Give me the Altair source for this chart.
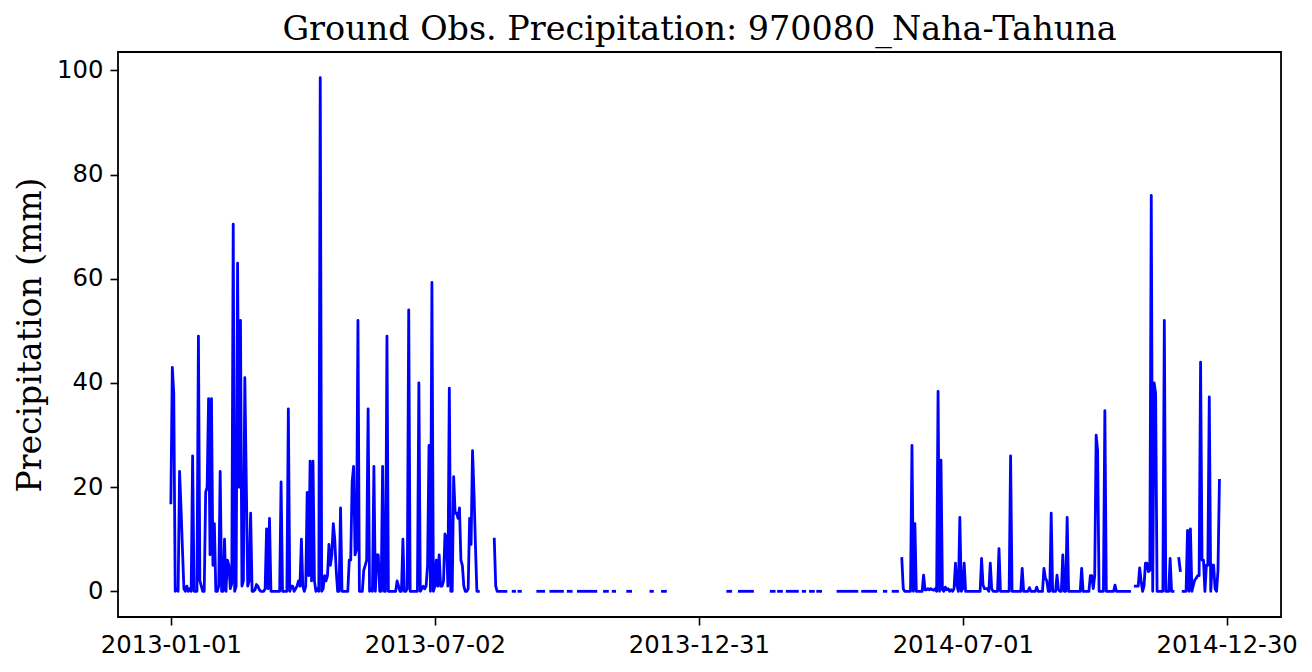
import altair as alt
import pandas as pd

# Daily precipitation (mm); one list per unbroken run
# of observations (the gaps are days with no data).
run_2013_wet_start = "2013-01-01"
run_2013_wet = [
    17, 43, 38, 0, 0.5, 0, 23, 16, 8, 0.5,
    0, 1, 0, 0.5, 0, 26, 0, 0, 0, 49,
    2, 1, 0, 0, 19, 20, 37, 7, 37, 5,
    13, 0, 0, 1, 23, 0, 0, 10, 0, 6,
    5, 0.5, 1.5, 70.5, 0, 1, 63, 20, 52, 1,
    2, 41, 21, 1, 2, 15, 0, 0, 0.3, 1.3,
    1, 0.3, 0, 0, 0, 0.5, 12, 0.5, 14, 0,
    0, 0, 0, 0, 0, 0, 21, 0, 0, 0,
    0, 35, 0, 1, 1, 0, 0.5, 1, 2, 1,
    10, 1, 0, 1, 19, 3, 25, 2, 25, 2,
    0, 0.5, 0, 98.6, 0, 0.5, 3, 2, 3, 9,
    5, 7, 13, 10, 4, 0, 0, 16, 0, 0,
    0, 0, 0, 6, 6, 21, 24, 7, 8, 52,
    0, 0, 0, 4, 5, 6, 35, 0, 0.5, 0,
    24, 0, 7, 7, 0, 0, 24, 0, 0, 49,
    0, 0, 0, 0, 0, 0, 2, 1, 0, 0,
    10, 0, 0, 0.5, 54, 0, 0, 0, 0, 0,
    0, 40, 0, 0.5, 1, 0.5, 1, 5, 28, 0,
    59.3, 0, 1, 6, 1, 7, 1, 1, 2, 11,
    10, 1, 39, 0, 0, 22, 15, 15, 14, 16,
    6, 5, 1, 0, 0, 0.5, 14, 9, 27, 19,
    9, 0, 0,
]
run_2013_aug_start = "2013-08-12"
run_2013_aug = [10, 1, 0, 0, 0, 0, 0, 0, 0]

dry_run_starts = [
    "2013-08-25", "2013-08-29", "2013-09-11", "2013-09-20", "2013-10-02",
    "2013-10-09", "2013-10-27", "2013-11-02", "2013-11-12", "2013-11-28",
    "2013-12-06", "2014-01-20", "2014-01-28", "2014-02-19", "2014-02-24",
    "2014-03-02", "2014-03-13", "2014-03-18", "2014-03-23", "2014-04-06",
    "2014-04-23", "2014-05-08", "2014-05-14",
]
dry_run_values = [
    [0, 0], [0, 0], [0, 0, 0, 0, 0], [0, 0, 0, 0, 0, 0, 0, 0, 0], [0, 0, 0],
    [0, 0, 0, 0, 0, 0, 0, 0, 0, 0, 0, 0, 0], [0, 0, 0], [0, 0], [0, 0, 0], [0, 0],
    [0, 0, 0], [0, 0, 0], [0, 0, 0, 0, 0, 0, 0, 0, 0, 0], [0, 0, 0], [0, 0, 0],
    [0, 0, 0, 0, 0, 0, 0, 0], [0, 0], [0, 0, 0], [0, 0, 0],
    [0, 0, 0, 0, 0, 0, 0, 0, 0, 0, 0, 0, 0, 0],
    [0, 0, 0, 0, 0, 0, 0, 0, 0, 0], [0, 0], [0, 0, 0, 0],
]

run_2014_wet_start = "2014-05-20"
run_2014_wet = [
    6.3, 0.5, 0, 0, 0, 0, 0, 28, 0, 13,
    0, 0, 0, 0, 0, 3.1, 0.3, 0.3, 0.5, 0.3,
    0.5, 0.3, 0.2, 0.5, 0, 38.4, 0, 25.2, 0.3, 0,
    0.8, 0.3, 0.5, 0, 0.3, 0, 0.5, 5.4, 1.2, 0,
    14.2, 0, 0.5, 5.4, 0, 0, 0, 0, 0, 0,
    0, 0, 0, 0, 0, 6.3, 1.2, 0.5, 0.5, 0.5,
    0, 5.4, 0.5, 0, 0, 0, 0, 8.2, 0, 0,
    0, 0, 0, 0, 0, 26, 0, 0, 0, 0,
    0, 0, 0, 4.4, 0, 0, 0, 0, 0.7, 0,
    0, 0, 0, 0.8, 0, 0, 0, 0, 4.4, 2.5,
    2, 0, 0, 15, 0, 0, 0, 3.1, 0.3, 0,
    0, 7, 0, 0, 14.2, 0, 0, 0, 0, 0,
    0, 0, 0, 0, 4.4, 0, 0, 0, 0, 0,
    3, 3, 0.5, 3, 30, 27, 0, 0, 0, 0,
    34.7, 0, 0, 0, 0, 0, 0, 1.2, 0, 0,
    0, 0, 0, 0, 0, 0, 0, 0,
]
run_2014_oct_start = "2014-10-28"
run_2014_oct = [
    1, 1, 1, 4.5, 2, 0, 1, 5.4, 5.4, 3.8,
    4, 76, 0, 40, 38, 0, 0, 0, 0, 0,
    52, 0, 0, 0, 6.3, 0, 0,
]
run_2014_nov_start = "2014-11-27"
run_2014_nov = [6.3, 4]
run_2014_dec_start = "2014-11-30"
run_2014_dec = [
    0, 0, 0, 11.7, 0, 12, 0, 1.2, 2.2, 2.5,
    3, 3, 44, 6, 6, 0, 5, 5, 37.3, 0,
    5, 5, 0.5, 0, 4, 21.3,
]

x_tick_dates = [(2013, 1, 1), (2013, 7, 2), (2013, 12, 31), (2014, 7, 1), (2014, 12, 30)]
y_ticks = [0, 20, 40, 60, 80, 100]

runs = [(run_2013_wet_start, run_2013_wet), (run_2013_aug_start, run_2013_aug)]
runs += list(zip(dry_run_starts, dry_run_values))
runs += [
    (run_2014_wet_start, run_2014_wet),
    (run_2014_oct_start, run_2014_oct),
    (run_2014_nov_start, run_2014_nov),
    (run_2014_dec_start, run_2014_dec),
]

frames = []
for i, (start, vals) in enumerate(runs):
    dates = pd.date_range(start, periods=len(vals), freq="D")
    frames.append(pd.DataFrame({"date": dates, "precip": vals, "run": i}))
df = pd.concat(frames, ignore_index=True)

ymax = max(df["precip"])
y_domain = [-0.05 * ymax, 1.05 * ymax]

x_domain = [
    alt.DateTime(year=2012, month=11, date=25, hours=13, minutes=12),
    alt.DateTime(year=2015, month=2, date=5, hours=10, minutes=48),
]

chart = (
    alt.Chart(df)
    .mark_line(color="#0000ff", strokeWidth=2.8, strokeCap="square", strokeJoin="round")
    .encode(
        x=alt.X(
            "date:T",
            scale=alt.Scale(domain=x_domain, nice=False),
            axis=alt.Axis(
                values=[alt.DateTime(year=y, month=m, date=d) for (y, m, d) in x_tick_dates],
                format="%Y-%m-%d",
                title=None,
                grid=False,
                domain=False,
                tickSize=8,
                tickWidth=1.6,
                tickColor="black",
                labelPadding=8,
                labelFont="DejaVu Sans",
                labelFontSize=24.3,
                labelColor="black",
                labelFlush=False,
                labelOverlap=False,
            ),
        ),
        y=alt.Y(
            "precip:Q",
            scale=alt.Scale(domain=y_domain, nice=False, zero=False),
            axis=alt.Axis(
                values=y_ticks,
                title="Precipitation (mm)",
                titleFont="DejaVu Serif",
                titleFontSize=33,
                titleFontWeight="normal",
                titleColor="black",
                titleAngle=270,
                titleBaseline="alphabetic",
                titleAlign="center",
                titleX=-78,
                titleY=282.5,
                grid=False,
                domain=False,
                tickSize=8,
                tickWidth=1.6,
                tickColor="black",
                labelPadding=7,
                labelFont="DejaVu Sans",
                labelFontSize=24.3,
                labelColor="black",
                labelFlush=False,
                labelOverlap=False,
            ),
        ),
        detail="run:N",
    )
    .properties(
        width=1163,
        height=565,
        title=alt.TitleParams(
            "Ground Obs. Precipitation: 970080_Naha-Tahuna",
            font="DejaVu Serif",
            fontSize=33.4,
            fontWeight="normal",
            color="black",
            anchor="middle",
            baseline="alphabetic",
            offset=13,
            dy=34,
        ),
        autosize=alt.AutoSizeParams(type="none"),
        padding={"left": 110, "top": 44, "right": 23, "bottom": 47},
        background="white",
    )
    .configure_view(stroke="black", strokeWidth=1.8)
)

chart.save("out.html", embed_options={"renderer": "svg", "actions": False})
